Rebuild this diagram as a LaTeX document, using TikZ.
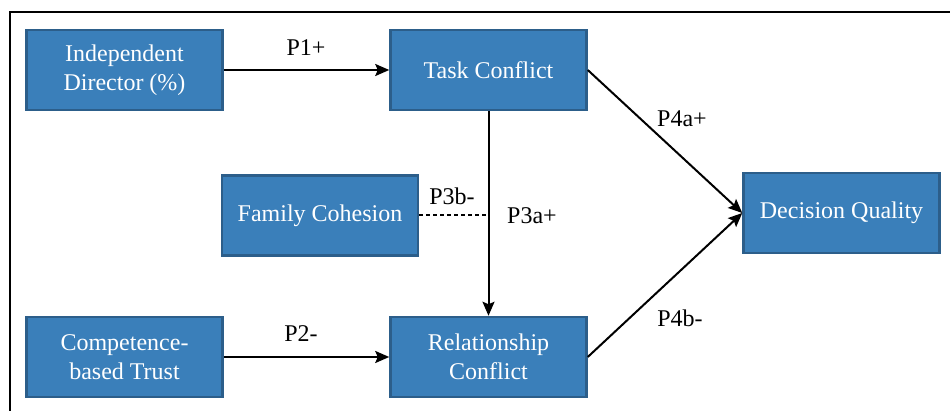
\documentclass[tikz,border=0pt]{standalone}
\usepackage{fontspec}
\setmainfont{Liberation Serif}
\newfontfamily\tnr{Liberation Serif}
\usetikzlibrary{arrows.meta}
\definecolor{boxfill}{RGB}{58,127,186}
\definecolor{boxline}{RGB}{44,94,138}
\begin{document}
\begin{tikzpicture}[x=1pt,y=-1pt,
  box/.style={rectangle, fill=boxfill, draw=boxline, line width=2.5pt,
    minimum width=196pt, minimum height=80pt, inner sep=2pt,
    text=white, align=center, font=\tnr\fontsize{24}{29}\selectfont},
  conn/.style={line width=2pt, -{Stealth[length=14pt,width=12pt,inset=2.5pt]}},
  lbl/.style={font=\tnr\fontsize{24}{28}\selectfont, inner sep=0pt}]
\useasboundingbox (0,0) rectangle (950,411);
\fill[white] (0,0) rectangle (950,411);
\draw[line width=2pt] (9.5,411) -- (9.5,12.5) -- (950,12.5);

\node[box] (ind)  at (124.5,70)  {Independent\\Director (\%)};
\node[box] (task) at (488.5,70)  {Task Conflict};
\node[box] (fam)  at (320,215.5) {Family Cohesion};
\node[box] (dq)   at (841.5,213) {Decision Quality};
\node[box] (comp) at (124.5,357) {Competence-\\based Trust};
\node[box] (rel)  at (488.5,357) {Relationship\\Conflict};

\coordinate (mid) at (fam.east -| task.south);

\draw[conn] (ind) -- (task);
\draw[conn] (comp) -- (rel);
\draw[conn] (task) -- (rel);
\draw[line width=2pt, dash pattern=on 4pt off 3pt] (fam) -- (mid);
\draw[conn] (task.east) -- (dq.west);
\draw[conn] (rel.east) -- (dq.west);

\node[lbl] (l1)  at (306,48)  {P1+};
\node[lbl] (l2)  at (301,334) {P2-};
\node[lbl] (l3b) at (452,196) {P3b-};
\node[lbl] (l3a) at (532,216) {P3a+};
\node[lbl] (l4a) at (682,119) {P4a+};
\node[lbl] (l4b) at (680,318) {P4b-};
\end{tikzpicture}
\end{document}
